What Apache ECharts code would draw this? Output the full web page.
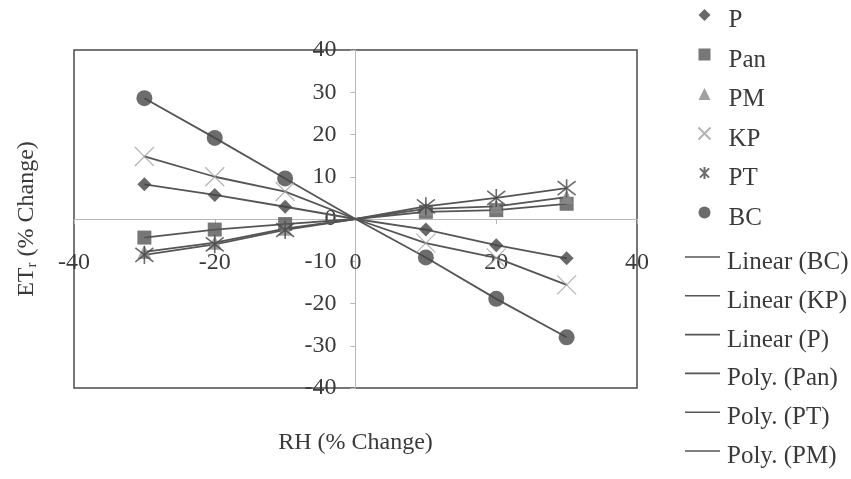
<!DOCTYPE html>
<html>
<head>
<meta charset="utf-8">
<script src="https://cdn.jsdelivr.net/npm/echarts@6/dist/echarts.min.js"></script>
<style>
html,body{margin:0;padding:0;background:#ffffff;}
#chart{width:851px;height:479px;}
</style>
</head>
<body>
<div id="chart"></div>
<script>
// ---- data ----
const rhChange = [-30, -20, -10, 10, 20, 30];          // RH (% Change)
const P   = [8.2, 5.7, 2.9, -2.5, -6.2, -9.3];
const Pan = [-4.4, -2.5, -1.2, 1.7, 2.1, 3.6];
const PM  = [-7.8, -5.6, -2.3, 2.4, 3.0, 5.2];
const KP  = [14.8, 10.0, 6.5, -5.7, -9.2, -15.6];
const PT  = [-8.5, -6.0, -2.6, 3.0, 5.0, 7.3];
const BC  = [28.6, 19.2, 9.6, -9.1, -18.9, -28.0];
const origin = [0, 0];                                  // all trend lines pass through the origin
const xTickLabels = [-40, -20, 0, 20, 40];
const yTickLabels = [-40, -30, -20, -10, 0, 10, 20, 30, 40];

const markerNames = ['P', 'Pan', 'PM', 'KP', 'PT', 'BC'];
const trendNames = ['Linear (BC)', 'Linear (KP)', 'Linear (P)', 'Poly. (Pan)', 'Poly. (PT)', 'Poly. (PM)'];

// ---- layout / style ----
const W = 851, H = 479;
const GRID = { left: 74, right: 214, top: 50, bottom: 91 };
const FONT = '"Liberation Serif", "Times New Roman", serif';
const TXT = '#3a3a3a';
const LINE = '#555555';
const AXIS = '#b8b8b8';
const X_PATH = 'path://M0,0L10,10M10,0L0,10';
const STAR_PATH = 'path://M0,0L10,10M10,0L0,10M5,-1.5L5,11.5';

// axes cross at (0,0) inside the plot: compute offsets from the scale
const xMin = xTickLabels[0], xMax = xTickLabels[xTickLabels.length - 1];
const yMin = yTickLabels[0], yMax = yTickLabels[yTickLabels.length - 1];
const plotW = W - GRID.left - GRID.right, plotH = H - GRID.top - GRID.bottom;
const yAxisOffset = -plotW * (0 - xMin) / (xMax - xMin);
const xAxisOffset = -plotH * (0 - yMin) / (yMax - yMin);

function pts(arr) { return rhChange.map((x, i) => [x, arr[i]]); }
function trendPts(arr) {
  const p = pts(arr);
  const left = p.filter(d => d[0] < origin[0]);
  const right = p.filter(d => d[0] > origin[0]);
  return left.concat([origin.slice()], right);
}

const markerStyles = {
  P:   { symbol: 'diamond',  symbolSize: 14, itemStyle: { color: '#444444' } },
  Pan: { symbol: 'rect',     symbolSize: 14, itemStyle: { color: '#555555' } },
  PM:  { symbol: 'triangle', symbolSize: 14, itemStyle: { color: '#8a8a8a' } },
  KP:  { symbol: X_PATH,     symbolSize: 19, itemStyle: { color: 'none', borderColor: '#a0a0a0', borderWidth: 1.2 } },
  PT:  { symbol: STAR_PATH,  symbolSize: 18, itemStyle: { color: 'none', borderColor: '#454545', borderWidth: 1.6 } },
  BC:  { symbol: 'circle',   symbolSize: 16, itemStyle: { color: '#474747' } }
};
const seriesData = { P, Pan, PM, KP, PT, BC };
const trendSource = { 'Linear (BC)': BC, 'Linear (KP)': KP, 'Linear (P)': P, 'Poly. (Pan)': Pan, 'Poly. (PT)': PT, 'Poly. (PM)': PM };

const series = [];
trendNames.forEach(n => {
  series.push({
    name: n, type: 'line', data: trendPts(trendSource[n]),
    symbol: 'none', showSymbol: false, z: 2,
    lineStyle: { color: LINE, width: 1.8 }, itemStyle: { color: LINE },
    emphasis: { disabled: true }, animation: false
  });
});
markerNames.forEach(n => {
  series.push(Object.assign({
    name: n, type: 'scatter', data: pts(seriesData[n]), z: 3,
    emphasis: { disabled: true }, animation: false
  }, markerStyles[n]));
});

function legendText(padLeft) {
  return {
    rich: { t: { fontFamily: FONT, fontSize: 25, color: TXT, lineHeight: 25, padding: [11, 0, 0, padLeft] } }
  };
}

const chart = echarts.init(document.getElementById('chart'), null, { renderer: 'canvas' });
chart.setOption({
  backgroundColor: '#ffffff',
  animation: false,
  textStyle: { fontFamily: FONT, color: TXT },
  grid: { left: GRID.left, right: GRID.right, top: GRID.top, bottom: GRID.bottom, show: true,
          borderColor: '#4a4a4a', borderWidth: 1.5,
          backgroundColor: 'transparent', containLabel: false, outerBoundsMode: 'none' },
  legend: [
    {
      orient: 'vertical', left: 696, top: -3, padding: 0,
      itemWidth: 12, itemHeight: 12, itemGap: 3.5, symbolKeepAspect: true,
      data: markerNames.map(n => ({ name: n })),
      formatter: '{t|{name}}', textStyle: legendText(13),
      selectedMode: false
    },
    {
      orient: 'vertical', left: 685, top: 239, padding: 0,
      itemWidth: 35, itemHeight: 1.6, itemGap: 2.8,
      icon: 'rect',
      data: trendNames.map(n => ({ name: n, icon: 'rect', itemStyle: { color: LINE } })),
      formatter: '{t|{name}}', textStyle: legendText(2),
      selectedMode: false
    }
  ],
  xAxis: {
    type: 'value', min: xMin, max: xMax, interval: xTickLabels[1] - xTickLabels[0],
    position: 'bottom', offset: xAxisOffset,
    name: 'RH (% Change)', nameLocation: 'middle', nameGap: 212,
    nameTextStyle: { fontFamily: FONT, fontSize: 24, color: TXT },
    axisLine: { onZero: false, lineStyle: { color: AXIS, width: 1 } },
    axisTick: { show: true, length: 5, lineStyle: { color: AXIS } },
    axisLabel: { margin: 32, fontFamily: FONT, fontSize: 24, color: TXT, showMinLabel: true, showMaxLabel: true, hideOverlap: false },
    splitLine: { show: false }
  },
  yAxis: {
    type: 'value', min: yMin, max: yMax, interval: yTickLabels[1] - yTickLabels[0],
    position: 'left', offset: yAxisOffset,
    name: 'ET{s|r} (% Change)', nameLocation: 'middle', nameGap: 316,
    nameTextStyle: { fontFamily: FONT, fontSize: 24, color: TXT, rich: { s: { fontFamily: FONT, fontSize: 15, color: TXT, padding: [10, 0, 0, 0] } } },
    axisLine: { onZero: false, lineStyle: { color: AXIS, width: 1 } },
    axisTick: { show: true, length: 5, lineStyle: { color: AXIS } },
    axisLabel: { margin: 19, fontFamily: FONT, fontSize: 24, color: TXT, showMinLabel: true, showMaxLabel: true, hideOverlap: false },
    splitLine: { show: false }
  },
  series: series
});
</script>
</body>
</html>
